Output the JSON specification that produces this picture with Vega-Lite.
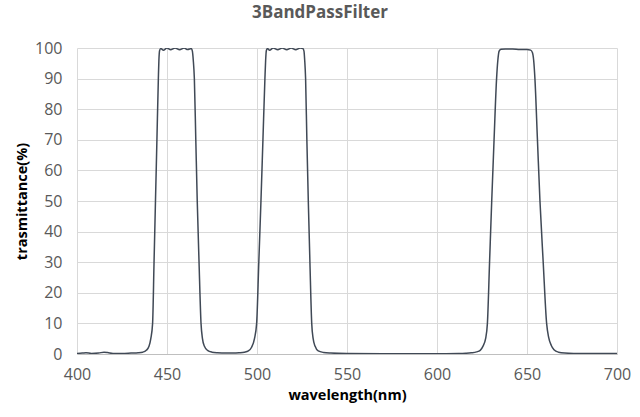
{
  "$schema": "https://vega.github.io/schema/vega-lite/v6.json",
  "width": 540,
  "height": 306,
  "autosize": {"type": "none"},
  "padding": {"left": 77, "top": 48, "right": 23, "bottom": 63},
  "background": "white",
  "title": {
    "text": "3BandPassFilter",
    "font": "Open Sans",
    "fontSize": 17,
    "fontWeight": "bold",
    "color": "#595959",
    "anchor": "middle",
    "dx": -27,
    "offset": 18
  },
  "config": {"view": {"stroke": null}},
  "data": {
    "values": [
      {"wl": 400, "t": 0.2}, {"wl": 403, "t": 0.3}, {"wl": 405, "t": 0.4}, {"wl": 408, "t": 0.2},
      {"wl": 412, "t": 0.3}, {"wl": 415, "t": 0.6}, {"wl": 417, "t": 0.5}, {"wl": 420, "t": 0.2},
      {"wl": 425, "t": 0.2}, {"wl": 430, "t": 0.3}, {"wl": 434, "t": 0.4}, {"wl": 436.5, "t": 0.6},
      {"wl": 438.5, "t": 1.2}, {"wl": 440, "t": 2.5}, {"wl": 441, "t": 5}, {"wl": 442, "t": 10},
      {"wl": 442.8, "t": 30}, {"wl": 443.6, "t": 50}, {"wl": 444.4, "t": 70}, {"wl": 445.2, "t": 90},
      {"wl": 445.5, "t": 96}, {"wl": 445.9, "t": 99.2}, {"wl": 446.6, "t": 99.8},
      {"wl": 448, "t": 99.3}, {"wl": 450, "t": 100}, {"wl": 452, "t": 99.4}, {"wl": 454.5, "t": 100},
      {"wl": 457, "t": 99.4}, {"wl": 459.5, "t": 100}, {"wl": 461.5, "t": 99.5}, {"wl": 463.5, "t": 99.8},
      {"wl": 464.1, "t": 99}, {"wl": 464.6, "t": 96}, {"wl": 465.2, "t": 90}, {"wl": 466, "t": 70},
      {"wl": 466.8, "t": 50}, {"wl": 467.8, "t": 30}, {"wl": 468.9, "t": 10}, {"wl": 469.7, "t": 5},
      {"wl": 470.8, "t": 2.5}, {"wl": 472.5, "t": 1.2}, {"wl": 475, "t": 0.6}, {"wl": 478, "t": 0.4},
      {"wl": 483, "t": 0.3}, {"wl": 487, "t": 0.3}, {"wl": 490, "t": 0.4}, {"wl": 493, "t": 0.6},
      {"wl": 495.2, "t": 1}, {"wl": 497, "t": 2.2}, {"wl": 498.6, "t": 5}, {"wl": 499.8, "t": 10},
      {"wl": 501, "t": 30}, {"wl": 502.2, "t": 50}, {"wl": 503.3, "t": 70}, {"wl": 504.4, "t": 90},
      {"wl": 504.8, "t": 96}, {"wl": 505.2, "t": 99.2}, {"wl": 505.8, "t": 99.8},
      {"wl": 507, "t": 99.3}, {"wl": 509, "t": 100}, {"wl": 511.5, "t": 99.4},
      {"wl": 514, "t": 100}, {"wl": 516.5, "t": 99.4}, {"wl": 519, "t": 100}, {"wl": 521.5, "t": 99.4},
      {"wl": 524, "t": 100}, {"wl": 525.5, "t": 99.8}, {"wl": 526.1, "t": 99}, {"wl": 526.5, "t": 96},
      {"wl": 527, "t": 90}, {"wl": 527.7, "t": 70}, {"wl": 528.5, "t": 50}, {"wl": 529.4, "t": 30},
      {"wl": 530.4, "t": 10}, {"wl": 531.2, "t": 5}, {"wl": 532.3, "t": 2.5}, {"wl": 534, "t": 1},
      {"wl": 537, "t": 0.5}, {"wl": 541, "t": 0.3}, {"wl": 550, "t": 0.15}, {"wl": 570, "t": 0.1},
      {"wl": 590, "t": 0.1}, {"wl": 605, "t": 0.1}, {"wl": 612, "t": 0.15}, {"wl": 616, "t": 0.25},
      {"wl": 619, "t": 0.4}, {"wl": 622, "t": 0.7}, {"wl": 624, "t": 1.2}, {"wl": 625.5, "t": 2.5},
      {"wl": 627, "t": 5}, {"wl": 628, "t": 10}, {"wl": 629.2, "t": 30}, {"wl": 630.4, "t": 50},
      {"wl": 631.7, "t": 70}, {"wl": 633.1, "t": 90}, {"wl": 633.8, "t": 96}, {"wl": 634.5, "t": 99},
      {"wl": 635.5, "t": 99.6}, {"wl": 638, "t": 99.7}, {"wl": 642, "t": 99.7}, {"wl": 646, "t": 99.5},
      {"wl": 650, "t": 99.5}, {"wl": 652, "t": 99.3}, {"wl": 653, "t": 98.5}, {"wl": 653.7, "t": 96},
      {"wl": 654.4, "t": 90}, {"wl": 655.8, "t": 70}, {"wl": 657.2, "t": 50}, {"wl": 659, "t": 30},
      {"wl": 660.9, "t": 10}, {"wl": 662, "t": 5.5}, {"wl": 663.5, "t": 2.8}, {"wl": 665, "t": 1.4},
      {"wl": 667.5, "t": 0.6}, {"wl": 671, "t": 0.3}, {"wl": 676, "t": 0.2}, {"wl": 690, "t": 0.15},
      {"wl": 700, "t": 0.15}
    ]
  },
  "mark": {"type": "line", "color": "#404956", "strokeWidth": 1.5, "interpolate": "monotone", "clip": true},
  "encoding": {
    "x": {
      "field": "wl",
      "type": "quantitative",
      "scale": {"domain": [400, 700], "nice": false, "zero": false},
      "axis": {
        "title": "wavelength(nm)",
        "values": [400, 450, 500, 550, 600, 650, 700],
        "grid": true,
        "gridColor": "#d9d9d9",
        "gridWidth": 1,
        "domainColor": "#bfbfbf",
        "domainWidth": 1,
        "ticks": false,
        "labelFont": "Open Sans",
        "labelFontSize": 16,
        "labelColor": "#595959",
        "labelPadding": 12,
        "labelFlush": false,
        "titleFont": "Open Sans",
        "titleFontSize": 14.5,
        "titleFontWeight": "bold",
        "titleColor": "#000000",
        "titlePadding": 6
      }
    },
    "y": {
      "field": "t",
      "type": "quantitative",
      "scale": {"domain": [0, 100], "nice": false},
      "axis": {
        "title": "trasmittance(%)",
        "values": [0, 10, 20, 30, 40, 50, 60, 70, 80, 90, 100],
        "grid": true,
        "gridColor": "#d9d9d9",
        "gridWidth": 1,
        "domain": false,
        "ticks": false,
        "labelFont": "Open Sans",
        "labelFontSize": 16,
        "labelColor": "#595959",
        "labelPadding": 15,
        "labelFlush": false,
        "titleFont": "Open Sans",
        "titleFontSize": 14.5,
        "titleFontWeight": "bold",
        "titleColor": "#000000",
        "titlePadding": 5
      }
    }
  }
}
